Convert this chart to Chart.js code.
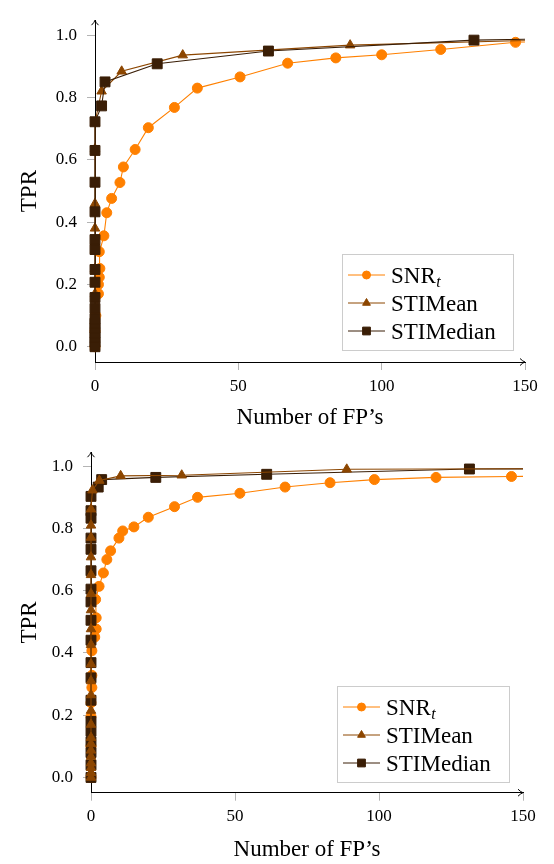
<!DOCTYPE html>
<html>
<head>
<meta charset="utf-8">
<script src="https://cdn.jsdelivr.net/npm/chart.js@4/dist/chart.umd.min.js"></script>
<style>
  html, body { margin: 0; padding: 0; background: #fff; }
  #wrap { position: relative; width: 554px; height: 864px; }
  .panel { position: absolute; left: 0; width: 554px; height: 432px; }
</style>
</head>
<body>
<div id="wrap">
  <div class="panel" style="top:0"><canvas id="chartTop" width="554" height="432"></canvas></div>
  <div class="panel" style="top:432px"><canvas id="chartBottom" width="554" height="432"></canvas></div>
</div>
<script>
/* ── Data ─────────────────────────────────────────── */
const X_TICKS = [0, 50, 100, 150];
const Y_TICKS = [0, 0.2, 0.4, 0.6, 0.8, 1.0];
const LABELS  = ['SNR', 'STIMean', 'STIMedian'];
const SUBS    = ['t', '', ''];

// upper panel
const snrTopX = [0, 0, 0.3, 1.2, 1.2, 1.5, 1.7, 1.5, 3.1, 4.1, 5.8, 8.7, 9.9, 14.0, 18.6, 27.7, 35.7, 50.6, 67.2, 84.0, 100.0, 120.6, 146.7, 165];
const snrTopY = [0.0, 0.05, 0.10, 0.17, 0.20, 0.223, 0.251, 0.305, 0.356, 0.43, 0.476, 0.527, 0.577, 0.633, 0.703, 0.768, 0.83, 0.866, 0.91, 0.927, 0.937, 0.954, 0.977, 0.985];
const meanTopX = [0, 0, 0, 0, 0, 0, 0, 0, 0, 0, 0, 0, 2.3, 9.3, 30.6, 89.0, 180];
const meanTopY = [0.0, 0.03, 0.06, 0.10, 0.17, 0.25, 0.31, 0.38, 0.459, 0.525, 0.635, 0.72, 0.82, 0.884, 0.936, 0.968, 0.99];
const medTopX = [0, 0, 0, 0, 0, 0, 0, 0, 0, 0, 0, 0, 0, 0, 0, 0, 0, 2.3, 3.5, 21.7, 60.5, 132.2, 170];
const medTopY = [0.0, 0.015, 0.03, 0.045, 0.06, 0.075, 0.09, 0.123, 0.158, 0.207, 0.248, 0.312, 0.344, 0.433, 0.528, 0.63, 0.722, 0.773, 0.85, 0.908, 0.949, 0.984, 0.99];

// lower panel
const snrBotX = [0, 0, 0, 0, 0.3, 0.3, 0.3, 1.3, 1.8, 1.8, 1.6, 2.8, 4.3, 5.5, 6.8, 9.7, 11.0, 14.9, 19.9, 29.0, 37.0, 51.7, 67.4, 83.0, 98.4, 119.8, 146.0, 180];
const snrBotY = [0.0, 0.10, 0.196, 0.24, 0.289, 0.328, 0.407, 0.451, 0.477, 0.513, 0.572, 0.614, 0.657, 0.70, 0.728, 0.769, 0.792, 0.805, 0.836, 0.87, 0.90, 0.913, 0.933, 0.947, 0.957, 0.964, 0.967, 0.97];
const meanBotX = [0, 0, 0, 0, 0, 0, 0, 0, 0, 0, 0, 0, 0, 0, 0, 0, 0, 0, 0, 0, 0, 0, 0.5, 2.9, 10.3, 31.5, 88.8, 180];
const meanBotY = [0.0, 0.015, 0.031, 0.046, 0.067, 0.087, 0.108, 0.128, 0.17, 0.215, 0.265, 0.31, 0.364, 0.426, 0.477, 0.538, 0.59, 0.651, 0.708, 0.771, 0.81, 0.862, 0.923, 0.954, 0.969, 0.971, 0.99, 0.993];
const medBotX = [0, 0, 0, 0, 0, 0, 0, 0, 0, 0, 0, 0, 0, 0, 0, 0, 0, 0, 0, 2.5, 3.7, 22.5, 61.0, 131.4, 170];
const medBotY = [0.0, 0.04, 0.08, 0.115, 0.149, 0.18, 0.248, 0.32, 0.369, 0.441, 0.505, 0.564, 0.605, 0.664, 0.733, 0.769, 0.833, 0.857, 0.903, 0.933, 0.957, 0.964, 0.974, 0.991, 0.992];

/* ── Style ────────────────────────────────────────── */
const FONT   = '"Liberation Serif", "Times New Roman", serif';
const ORANGE = '#ff8000';
const BROWN  = '#8c4600';
const DARK   = '#3a1e06';
const TICK_GRAY = '#b4b4b4';

function pts(xs, ys) { return xs.map((x, i) => ({ x, y: ys[i] })); }

function series(label, xs, ys, color, style, radius, legendRadius, order) {
  return {
    label, data: pts(xs, ys), showLine: true,
    borderColor: color, backgroundColor: color, borderWidth: 1.1,
    pointStyle: style, pointRadius: radius, pointBorderWidth: 1,
    pointBorderColor: color, pointBackgroundColor: color,
    legendRadius, order,
    clip: { left: 12, top: 12, right: 0, bottom: 12 }
  };
}

/* ── Plugins ──────────────────────────────────────── */
const axisArrows = {
  id: 'axisArrows',
  afterDraw(chart) {
    const { ctx, chartArea: a } = chart;
    ctx.save();
    ctx.strokeStyle = '#000';
    ctx.lineWidth = 1;
    ctx.beginPath();
    ctx.moveTo(a.left - 3.5, a.top + 5);
    ctx.quadraticCurveTo(a.left - 0.5, a.top + 2, a.left, a.top);
    ctx.quadraticCurveTo(a.left + 0.5, a.top + 2, a.left + 3.5, a.top + 5);
    ctx.stroke();
    ctx.beginPath();
    ctx.moveTo(a.right - 5, a.bottom - 3.5);
    ctx.quadraticCurveTo(a.right - 2, a.bottom - 0.5, a.right, a.bottom);
    ctx.quadraticCurveTo(a.right - 2, a.bottom + 0.5, a.right - 5, a.bottom + 3.5);
    ctx.stroke();
    ctx.restore();
  }
};

const boxLegend = {
  id: 'boxLegend',
  afterDraw(chart, args, opts) {
    const { ctx } = chart;
    const { x, y, w, h } = opts;
    ctx.save();
    ctx.fillStyle = '#fff';
    ctx.fillRect(x, y, w, h);
    ctx.strokeStyle = '#cccccc';
    ctx.lineWidth = 1;
    ctx.strokeRect(x + 0.5, y + 0.5, w, h);
    chart.data.datasets.forEach((ds, i) => {
      const cy = y + 21 + i * 28;
      ctx.strokeStyle = ds.borderColor;
      ctx.lineWidth = 1;
      ctx.beginPath();
      ctx.moveTo(x + 6, cy);
      ctx.lineTo(x + 43, cy);
      ctx.stroke();
      ctx.fillStyle = ds.backgroundColor;
      Chart.helpers.drawPoint(ctx, { pointStyle: ds.pointStyle, radius: ds.legendRadius, rotation: 0, borderWidth: 1 }, x + 24.5, cy);
      ctx.fillStyle = '#000';
      ctx.textAlign = 'left';
      ctx.textBaseline = 'alphabetic';
      ctx.font = '23px ' + FONT;
      const base = cy + 8;
      ctx.fillText(LABELS[i], x + 49, base);
      if (SUBS[i]) {
        const tw = ctx.measureText(LABELS[i]).width;
        ctx.font = 'italic 16px ' + FONT;
        ctx.fillText(SUBS[i], x + 49 + tw + 0.5, base + 4);
      }
    });
    ctx.restore();
  }
};

/* ── Chart builder ────────────────────────────────── */
function buildChart(id, datasets, g) {
  const ctx = document.getElementById(id).getContext('2d');
  return new Chart(ctx, {
    type: 'scatter',
    data: { datasets },
    plugins: [axisArrows, boxLegend],
    options: {
      responsive: false,
      animation: false,
      events: [],
      layout: { padding: { left: 0, right: g.padRight, top: g.padTop, bottom: 0 } },
      plugins: {
        legend: { display: false },
        tooltip: { enabled: false },
        boxLegend: g.legend
      },
      scales: {
        x: {
          type: 'linear', min: 0, max: 150,
          afterBuildTicks: s => { s.ticks = X_TICKS.map(v => ({ value: v })); },
          afterFit: s => { s.height = g.xAxisH; },
          grid: { drawOnChartArea: false, drawTicks: true, tickLength: 8, color: TICK_GRAY },
          border: { display: true, color: '#000', width: 1 },
          ticks: { color: '#000', font: { family: FONT, size: 17 }, padding: 6, maxRotation: 0 },
          title: { display: true, text: 'Number of FP’s', color: '#000', font: { family: FONT, size: 23 }, padding: { top: 0, bottom: 0 } }
        },
        y: {
          type: 'linear', min: g.yMin, max: g.yMax,
          afterBuildTicks: s => { s.ticks = Y_TICKS.map(v => ({ value: v })); },
          afterFit: s => { s.width = g.yAxisW; },
          grid: { drawOnChartArea: false, drawTicks: true, tickLength: 8, color: TICK_GRAY },
          border: { display: true, color: '#000', width: 1 },
          ticks: { color: '#000', font: { family: FONT, size: 17 }, padding: 10, callback: v => v.toFixed(1) },
          title: { display: true, text: 'TPR', color: '#000', font: { family: FONT, size: 23 }, padding: { top: 16, bottom: 0 } }
        }
      }
    }
  });
}

buildChart('chartTop', [
  series('SNR', snrTopX, snrTopY, ORANGE, 'circle', 5, 4, 2),
  series('STIMean', meanTopX, meanTopY, BROWN, 'triangle', 5.5, 4.5, 1),
  series('STIMedian', medTopX, medTopY, DARK, 'rect', 7, 5.5, 0)
], { padRight: 29, padTop: 5, xAxisH: 70, yAxisW: 95, yMin: -0.049, yMax: 1.048,
     legend: { x: 342, y: 254, w: 171, h: 96 } });

buildChart('chartBottom', [
  series('SNR', snrBotX, snrBotY, ORANGE, 'circle', 5, 4, 2),
  series('STIMean', meanBotX, meanBotY, BROWN, 'triangle', 5.5, 4.5, 0),
  series('STIMedian', medBotX, medBotY, DARK, 'rect', 7, 5.5, 1)
], { padRight: 31, padTop: 5, xAxisH: 71.3, yAxisW: 91, yMin: -0.049, yMax: 1.045,
     legend: { x: 337, y: 254, w: 172, h: 96 } });
</script>
</body>
</html>
